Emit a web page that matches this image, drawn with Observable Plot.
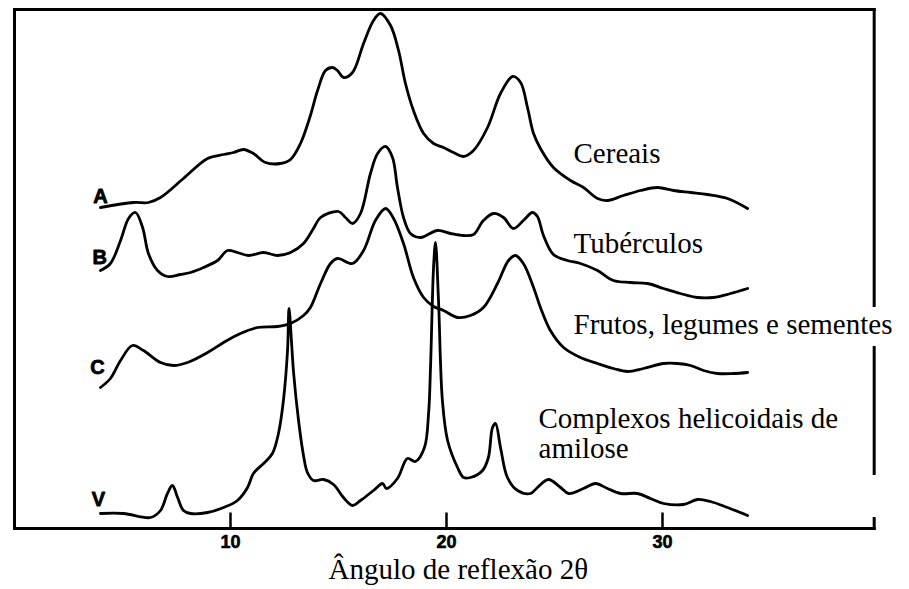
<!DOCTYPE html>
<html>
<head>
<meta charset="utf-8">
<script src="https://cdn.jsdelivr.net/npm/d3@7"></script>
<script src="https://cdn.jsdelivr.net/npm/@observablehq/plot@0.6"></script>
<style>
  html, body { margin: 0; padding: 0; background: #fff; }
</style>
</head>
<body>
<div id="chart"></div>
<script>
// ---- Data (2θ in degrees, intensity in arbitrary units incl. vertical offset) ----
const seriesNames = ["A", "B", "C", "V"];

const thetaA = [3.98,5.51,6.20,6.76,7.82,8.94,9.68,10.14,10.60,11.06,11.62,12.31,12.78,13.24,13.70,14.03,14.40,14.72,14.95,15.23,15.65,16.16,16.62,16.94,17.41,17.78,18.10,18.47,18.94,19.40,19.86,20.32,20.79,21.25,21.90,22.50,23.06,23.43,23.75,24.03,24.35,24.95,25.74,26.34,26.99,27.45,28.19,28.98,29.77,30.51,31.30,32.08,33.01,33.94];
const intA   = [321,326,326,331,350,370,374,376,379,375,366,365,369,385,413,438,458,461,458,451,456,485,508,515,503,478,445,418,395,385,381,376,372,378,401,435,452,446,421,395,380,361,348,341,330,328,333,338,341,338,336,334,330,320];

const thetaB = [3.98,4.44,4.91,5.28,5.60,5.93,6.20,6.62,7.08,7.69,8.15,8.75,9.40,9.86,10.32,10.83,11.53,12.18,12.78,13.38,13.84,14.17,15.00,15.32,15.65,16.02,16.48,16.81,17.18,17.50,17.73,18.01,18.33,18.80,19.58,20.19,20.79,21.25,21.71,22.18,22.64,23.10,23.56,23.98,24.21,24.49,24.95,25.60,26.20,26.99,27.73,28.52,29.31,30.05,30.83,31.62,32.36,33.15,33.94];
const intB   = [258,265,288,310,316,301,275,258,252,254,256,261,268,278,276,273,276,273,276,285,300,311,317,311,305,315,355,375,382,371,341,311,295,291,298,295,293,294,308,315,311,300,308,316,312,293,274,268,265,258,248,246,245,240,235,231,231,235,240];

const thetaC = [3.98,4.44,4.91,5.46,5.97,6.76,7.36,8.01,8.94,9.68,10.46,11.25,12.18,12.78,13.38,13.70,14.17,14.63,14.95,15.65,16.16,16.71,17.18,17.55,18.01,18.47,18.94,19.40,19.86,20.51,21.11,21.71,22.36,22.87,23.19,23.56,24.03,24.35,24.81,25.42,26.20,26.99,27.73,28.38,29.12,30.05,30.69,31.30,31.90,32.55,33.29,33.94];
const intC   = [141,150,168,183,178,166,163,166,176,186,195,201,202,205,213,221,245,265,270,265,278,308,320,310,285,251,231,222,218,211,213,221,245,268,273,265,241,221,198,181,171,165,160,157,160,165,165,163,158,155,155,156];

const thetaV = [3.98,5.05,6.30,6.76,7.08,7.31,7.55,7.82,8.15,8.94,9.68,10.32,10.79,11.06,11.53,11.94,12.22,12.45,12.64,12.71,12.82,12.92,13.15,13.38,13.56,13.84,14.31,14.77,15.23,15.65,16.02,16.62,17.04,17.22,17.73,18.19,18.56,18.98,19.17,19.26,19.40,19.49,19.63,19.81,20.05,20.51,20.79,21.11,21.67,21.94,22.13,22.27,22.50,22.82,23.29,23.89,24.21,24.72,25.28,25.65,26.34,26.90,27.45,28.06,28.84,29.44,30.05,30.97,31.62,32.22,33.01,33.94];
const intV   = [15,15,11,18,35,43,31,18,15,16,21,28,41,55,65,75,95,128,178,220,188,156,108,73,56,48,49,44,31,23,28,38,45,40,50,70,67,81,115,161,261,286,228,128,88,61,51,51,58,71,101,105,81,51,38,35,41,49,41,35,40,45,40,35,35,30,25,24,29,27,21,13];

// Curve letters (left of each trace)
const letterTheta = [3.98, 3.94, 3.84, 3.89];
const letterInt   = [332, 271, 161, 29];

// Series descriptions
const labelTexts = ["Cereais", "Tubérculos", "Frutos, legumes e sementes", "Complexos helicoidais de", "amilose"];
const labelTheta = [25.88, 25.88, 25.88, 24.26, 24.26];
const labelInt   = [375, 285, 204, 110, 80];

// Axis
const tickValues = [10, 20, 30];
const tickLabelInt = -14;
const xTitle = "Ângulo de reflexão 2θ";
const xTitleTheta = 14.54;
const xTitleInt = -41;

const xMin = 0, xFrame = 39.8, yMax = 519;

// Frame segments (right side is interrupted as in the scan)
const frameSegs = [
  {x1: 0, y1: yMax, x2: xFrame, y2: yMax},
  {x1: 0, y1: yMax, x2: 0, y2: 0},
  {x1: 0, y1: 0, x2: xFrame, y2: 0},
  {x1: xFrame, y1: yMax, x2: xFrame, y2: 223},
  {x1: xFrame, y1: 181, x2: xFrame, y2: 55},
  {x1: xFrame, y1: 10, x2: xFrame, y2: 0}
];

// ---- Build table ----
const curves = [[thetaA, intA, "A"], [thetaB, intB, "B"], [thetaC, intC, "C"], [thetaV, intV, "V"]];
const data = curves.flatMap(([t, v, s]) => t.map((x, i) => ({series: s, theta: x, intensity: v[i]})));

const serif = "'Liberation Serif', 'Times New Roman', serif";
const narrow = "'Liberation Sans Narrow', 'Liberation Sans', Arial, sans-serif";

const chart = Plot.plot({
  width: 909,
  height: 589,
  marginLeft: 14,
  marginRight: 31,
  marginTop: 9,
  marginBottom: 61,
  x: {domain: [xMin, 40], axis: null},
  y: {domain: [0, yMax], axis: null},
  style: {background: "white", overflow: "visible"},
  marks: [
    Plot.link(frameSegs, {x1: "x1", y1: "y1", x2: "x2", y2: "y2", stroke: "black", strokeWidth: 3, strokeLinecap: "square"}),
    Plot.link(tickValues, {x1: d => d, x2: d => d, y1: 0, y2: 16, stroke: "black", strokeWidth: 2.5}),
    Plot.line(data, {x: "theta", y: "intensity", z: "series", curve: "catmull-rom", stroke: "black", strokeWidth: 2.8, strokeLinejoin: "round"}),
    Plot.text(tickValues, {x: d => d, y: tickLabelInt, text: d => String(d), fontSize: 18, fontWeight: "bold", fontFamily: narrow, fill: "black", stroke: "black", strokeWidth: 0.6}),
    Plot.text(seriesNames, {x: (d, i) => letterTheta[i], y: (d, i) => letterInt[i], text: d => d, fontSize: 20, fontWeight: "bold", fontFamily: narrow, fill: "black", stroke: "black", strokeWidth: 0.8}),
    Plot.text(labelTexts, {x: (d, i) => labelTheta[i], y: (d, i) => labelInt[i], text: d => d, textAnchor: "start", fontSize: 29, fontFamily: serif, fill: "black"}),
    Plot.text([xTitle], {x: xTitleTheta, y: xTitleInt, text: d => d, textAnchor: "start", fontSize: 29, fontFamily: serif, fill: "black"})
  ]
});

document.getElementById("chart").appendChild(chart);
</script>
</body>
</html>
